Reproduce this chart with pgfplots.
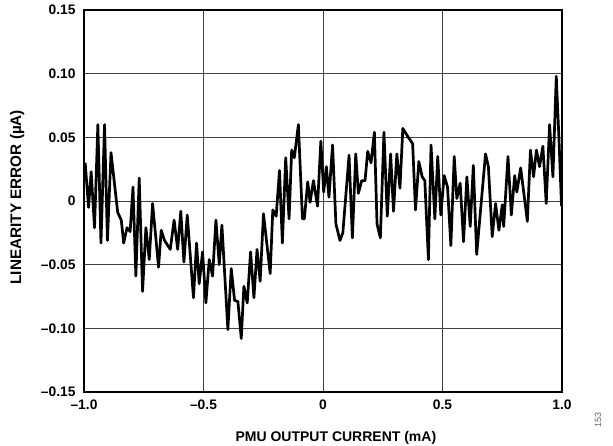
\documentclass[border=0pt]{standalone}
\usepackage{fontspec}
\setmainfont{Liberation Sans}
\usepackage{pgfplots}
\pgfplotsset{compat=1.18}
\begin{document}
\begin{tikzpicture}
\path[use as bounding box] (-84pt,-54pt) rectangle (529pt,392pt);
\begin{axis}[
  anchor=south west, at={(0,0)},
  scale only axis, width=478pt, height=382pt,
  xmin=-1, xmax=1, ymin=-0.15, ymax=0.15,
  xtick={-1,-0.5,0,0.5,1}, xticklabels={--1.0,--0.5,0,0.5,1.0},
  ytick={-0.15,-0.1,-0.05,0,0.05,0.1,0.15},
  yticklabels={--0.15,--0.10,--0.05,0,0.05,0.10,0.15},
  major tick length=0pt,
  grid=major, grid style={line width=0.9pt, color=black!75},
  axis line style={line width=1.2pt},
  ticklabel style={font=\fontsize{13.8}{15}\selectfont\bfseries},
  yticklabel style={xshift=-5pt},
  xticklabel style={yshift=-4pt},
  xlabel={PMU OUTPUT CURRENT (mA)},
  ylabel={LINEARITY ERROR (µA)},
  xlabel style={font=\fontsize{14}{16}\selectfont\bfseries, at={(axis description cs:0.527,-0.12)}, anchor=center},
  ylabel style={font=\fontsize{15.3}{17}\selectfont\bfseries, at={(axis description cs:-0.14,0.51)}, anchor=center},
]
\addplot[black, line width=2.7pt, line join=round] coordinates {
(-0.995,0.030) (-0.981,-0.005) (-0.970,0.023) (-0.956,-0.021) (-0.942,0.060)
(-0.929,-0.033) (-0.914,0.060) (-0.902,-0.031) (-0.887,0.038) (-0.859,-0.009)
(-0.844,-0.015) (-0.834,-0.033) (-0.820,-0.021) (-0.807,-0.024) (-0.795,0.011)
(-0.783,-0.059) (-0.769,0.018) (-0.755,-0.071) (-0.741,-0.021) (-0.727,-0.046)
(-0.713,-0.002) (-0.688,-0.052) (-0.677,-0.023) (-0.663,-0.031) (-0.639,-0.038)
(-0.623,-0.015) (-0.608,-0.038) (-0.595,-0.008) (-0.582,-0.048) (-0.568,-0.011)
(-0.542,-0.076) (-0.529,-0.033) (-0.518,-0.065) (-0.504,-0.040) (-0.490,-0.080)
(-0.476,-0.046) (-0.462,-0.059) (-0.448,-0.015) (-0.434,-0.050) (-0.423,-0.019)
(-0.398,-0.101) (-0.384,-0.053) (-0.370,-0.078) (-0.356,-0.079) (-0.342,-0.108)
(-0.331,-0.067) (-0.317,-0.080) (-0.303,-0.040) (-0.289,-0.076) (-0.276,-0.038)
(-0.263,-0.063) (-0.249,-0.010) (-0.221,-0.057) (-0.210,-0.007) (-0.196,-0.012)
(-0.182,0.024) (-0.170,-0.033) (-0.156,0.034) (-0.142,-0.014) (-0.131,0.040)
(-0.120,0.034) (-0.103,0.060) (-0.086,-0.014) (-0.078,-0.014) (-0.064,0.015)
(-0.054,-0.001) (-0.040,0.016) (-0.023,-0.004) (-0.009,0.047) (0.003,0.007)
(0.014,0.027) (0.025,0.003) (0.040,0.044) (0.054,-0.018) (0.071,-0.031)
(0.083,-0.025) (0.109,0.036) (0.123,-0.029) (0.137,0.037) (0.148,0.006)
(0.162,0.016) (0.176,0.016) (0.187,0.039) (0.201,0.030) (0.215,0.054)
(0.226,-0.018) (0.240,-0.029) (0.255,0.054) (0.269,-0.012) (0.283,0.037)
(0.295,-0.008) (0.309,0.037) (0.322,0.010) (0.334,0.057) (0.357,0.050)
(0.375,0.045) (0.387,-0.007) (0.401,0.031) (0.415,0.019) (0.426,0.016)
(0.441,-0.046) (0.452,0.044) (0.468,-0.014) (0.480,0.035) (0.493,-0.011)
(0.507,0.020) (0.521,0.011) (0.535,-0.035) (0.549,0.035) (0.560,0.002)
(0.574,0.014) (0.588,-0.032) (0.602,0.019) (0.616,-0.020) (0.629,0.028)
(0.643,-0.042) (0.664,0.003) (0.680,0.037) (0.692,0.027) (0.708,-0.028)
(0.722,-0.002) (0.736,-0.023) (0.750,-0.003) (0.756,-0.020) (0.774,0.035)
(0.788,-0.011) (0.802,0.020) (0.811,0.007) (0.827,0.026) (0.855,-0.016)
(0.868,0.040) (0.881,0.019) (0.893,0.040) (0.906,0.027) (0.920,0.043)
(0.934,-0.002) (0.948,0.060) (0.962,0.019) (0.976,0.098) (0.987,0.050)
(0.998,-0.004)
};
\end{axis}
\node[rotate=90, font=\fontsize{9}{10}\selectfont, text=black!60] at (514pt,-28pt) {153};
\end{tikzpicture}
\end{document}
